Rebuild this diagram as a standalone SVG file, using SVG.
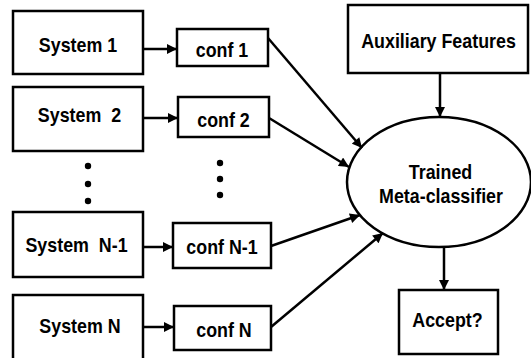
<svg xmlns="http://www.w3.org/2000/svg" width="531" height="358" viewBox="0 0 531 358">
<style>
.box{fill:#fff;stroke:#000;stroke-width:2.5}
.t{font-family:"Liberation Sans",Arial,sans-serif;font-weight:bold;font-size:21px;fill:#000;text-anchor:middle}
.c{stroke:#000;stroke-width:2.5;fill:none;marker-end:url(#ah)}
.dot{fill:#000}
</style>
<defs>
<marker id="ah" viewBox="0 0 10 10" markerUnits="userSpaceOnUse" markerWidth="11" markerHeight="10" refX="10" refY="5" orient="auto">
<path d="M0,0 L10,5 L0,10 z" fill="#000"/>
</marker>
</defs>
<rect width="531" height="358" fill="#fff"/>
<g id="sys1"><rect class="box" x="13" y="11" width="130" height="63"/><text class="t" transform="translate(78,52) scale(0.85,1)">System 1</text></g>
<g id="sys2"><rect class="box" x="13" y="87" width="130" height="64"/><text class="t" transform="translate(79.5,122) scale(0.85,1)" xml:space="preserve">System  2</text></g>
<g id="sysN1"><rect class="box" x="13" y="212" width="130" height="65"/><text class="t" transform="translate(76.5,252) scale(0.85,1)" xml:space="preserve">System  N-1</text></g>
<g id="sysN"><rect class="box" x="13" y="295" width="130" height="75"/><text class="t" transform="translate(80,333) scale(0.85,1)">System N</text></g>
<g id="conf1"><rect class="box" x="177" y="29" width="91" height="37"/><text class="t" transform="translate(222,57) scale(0.85,1)">conf 1</text></g>
<g id="conf2"><rect class="box" x="178" y="97" width="91" height="40"/><text class="t" transform="translate(223.5,127) scale(0.85,1)">conf 2</text></g>
<g id="confN1"><rect class="box" x="173" y="223" width="98" height="45"/><text class="t" transform="translate(222,254) scale(0.85,1)">conf N-1</text></g>
<g id="confN"><rect class="box" x="174" y="306" width="97" height="44"/><text class="t" transform="translate(224,337) scale(0.85,1)">conf N</text></g>
<g id="aux"><rect class="box" x="348" y="5" width="180" height="68"/><text class="t" transform="translate(438.5,48) scale(0.85,1)">Auxiliary Features</text></g>
<g id="meta"><ellipse class="box" cx="439" cy="182" rx="92" ry="65"/><text class="t" transform="translate(440.5,179) scale(0.85,1)">Trained</text><text class="t" transform="translate(441,203) scale(0.85,1)">Meta-classifier</text></g>
<g id="accept"><rect class="box" x="399" y="290" width="99" height="64"/><text class="t" transform="translate(447.5,327) scale(0.85,1)">Accept?</text></g>
<g id="dots">
<circle class="dot" cx="88" cy="166" r="3.2"/><circle class="dot" cx="88" cy="184" r="3.2"/><circle class="dot" cx="88" cy="201" r="3.2"/>
<circle class="dot" cx="220" cy="163" r="3.2"/><circle class="dot" cx="220" cy="179" r="3.2"/><circle class="dot" cx="220" cy="195" r="3.2"/>
</g>
<g id="connectors">
<line class="c" x1="143" y1="49" x2="177" y2="49"/>
<line class="c" x1="143" y1="118" x2="178" y2="118"/>
<line class="c" x1="143" y1="247" x2="173" y2="247"/>
<line class="c" x1="143" y1="327" x2="174" y2="327"/>
<line class="c" x1="268" y1="38" x2="362" y2="148"/>
<line class="c" x1="269" y1="118" x2="349" y2="167"/>
<line class="c" x1="271" y1="246" x2="360" y2="215"/>
<line class="c" x1="271" y1="327" x2="383" y2="233"/>
<line class="c" x1="440" y1="73" x2="440" y2="117"/>
<line class="c" x1="444" y1="247" x2="444" y2="290"/>
</g>
</svg>
